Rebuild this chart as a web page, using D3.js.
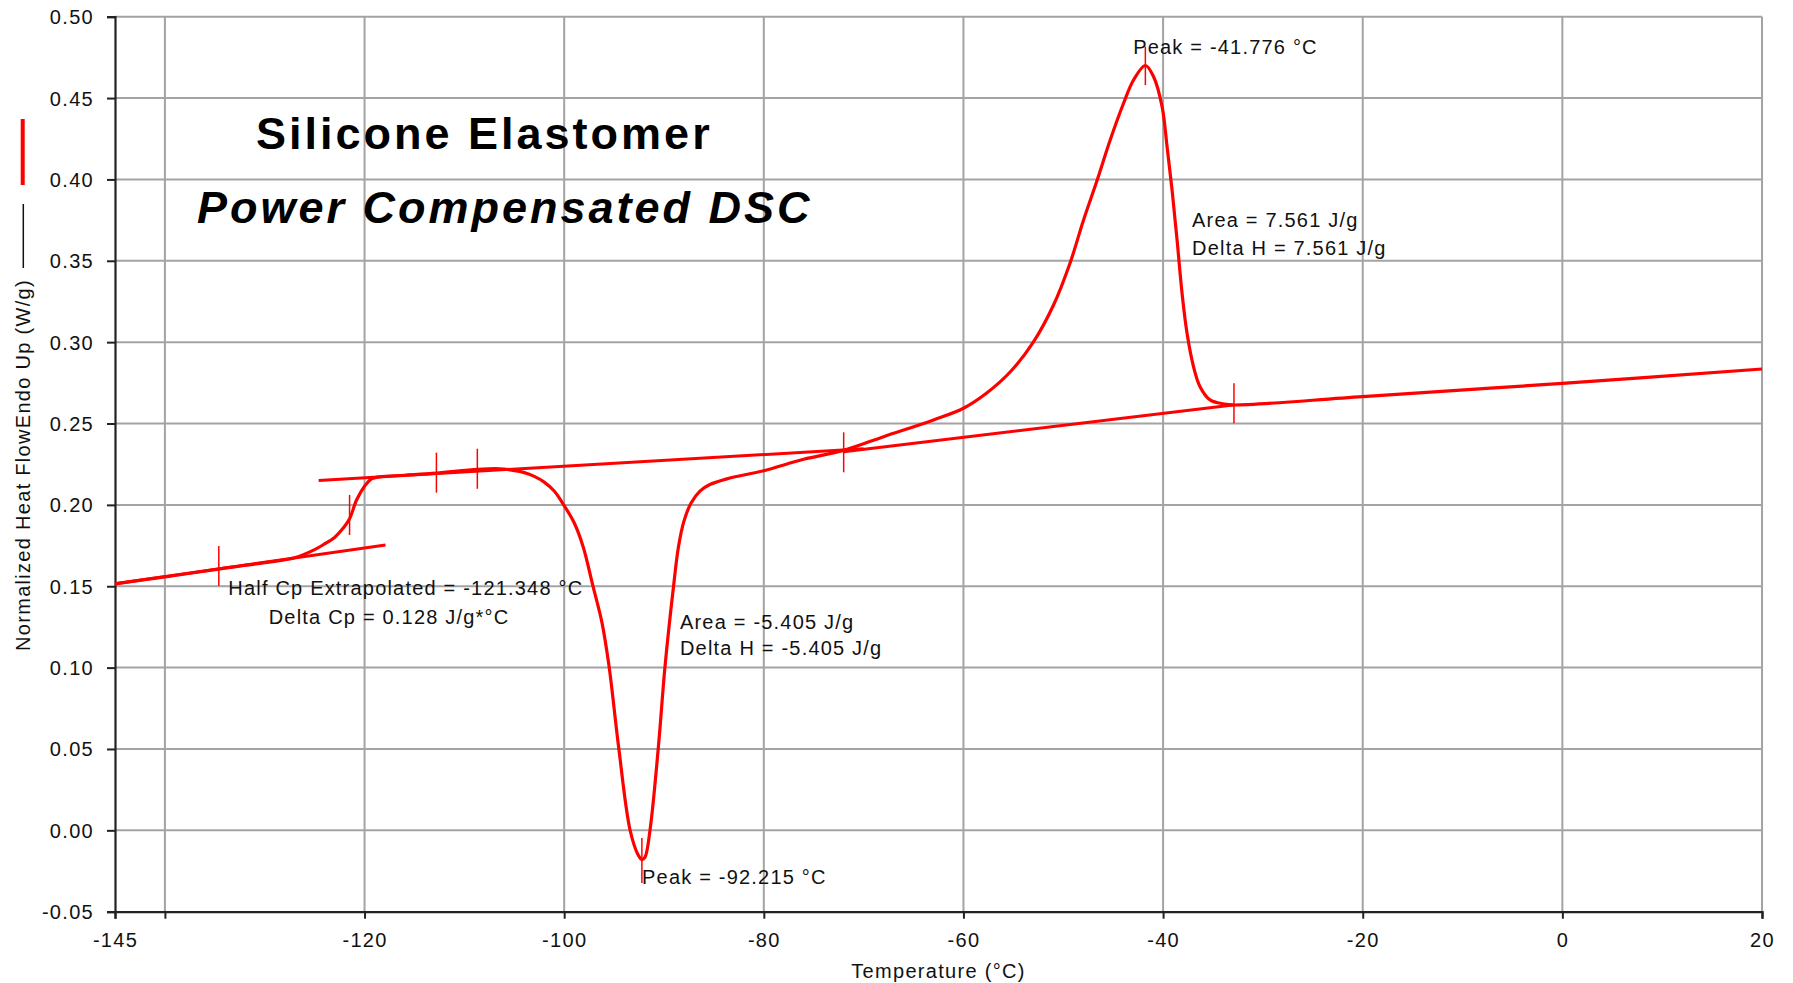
<!DOCTYPE html>
<html><head><meta charset="utf-8">
<script src="https://cdn.jsdelivr.net/npm/d3@7"></script>
<style>
body{margin:0;background:#fff;}
svg text{font-family:"Liberation Sans",Arial,sans-serif;fill:#111;}
</style>
</head><body><svg id="chart" width="1793" height="983"></svg>
<script>
// ---- data ----
const temperature = [-145,-140,-135,-130,-127,-125,-124,-123,-122.3,-121.5,-120.8,-120.0,-119.3,-118.5,-116,-112.8,-108.7,-106.5,-105.4,-104,-103,-102,-101,-100.1,-99,-98.1,-97.1,-96.2,-95.5,-94.55,-93.4,-92.6,-92.2,-91.9,-91.4,-90.56,-89.9,-89.05,-88.55,-88.0,-87.3,-86.4,-85.4,-83.7,-80,-76,-72,-68,-63,-60,-57.7,-55.3,-53,-51,-49.3,-48,-46.6,-45.3,-43.96,-42.96,-41.78,-40.95,-40.1,-39.6,-39.1,-38.6,-38.1,-37.6,-36.95,-36.3,-35.3,-33.9,-33,-20,0,20];
const heatFlow = [0.1515,0.1558,0.1602,0.1645,0.1675,0.1725,0.1760,0.1800,0.1845,0.1915,0.2030,0.2115,0.2160,0.2172,0.2182,0.2195,0.2218,0.2222,0.2215,0.2198,0.2175,0.2140,0.2085,0.2005,0.1890,0.1743,0.1497,0.1272,0.1006,0.0514,0.0002,-0.0150,-0.0180,-0.0165,0.0002,0.0514,0.1006,0.1497,0.1743,0.1900,0.2010,0.2085,0.2125,0.2160,0.2210,0.2280,0.2335,0.2419,0.2522,0.2594,0.2686,0.2818,0.3000,0.3225,0.3490,0.3745,0.3996,0.4242,0.4468,0.4611,0.4700,0.4631,0.4447,0.4201,0.3935,0.3628,0.3300,0.3054,0.2849,0.2726,0.2645,0.2620,0.2614,0.2665,0.2747,0.2835];

const xTickValues = [-145,-140,-120,-100,-80,-60,-40,-20,0,20];
const xTickLabels = ["-145","","-120","-100","-80","-60","-40","-20","0","20"];
const xGridValues = [-140,-120,-100,-80,-60,-40,-20,0,20];
const yTickValues = [0.50,0.45,0.40,0.35,0.30,0.25,0.20,0.15,0.10,0.05,0.00,-0.05];
const yTickLabels = ["0.50","0.45","0.40","0.35","0.30","0.25","0.20","0.15","0.10","0.05","0.00","-0.05"];
const yGridValues = [0.50,0.45,0.40,0.35,0.30,0.25,0.20,0.15,0.10,0.05,0.00];

// baselines: start/end temperatures and values
const baselineTemps  = [[-145,-117.9],[-124.6,-70],[-72,-33]];
const baselineValues = [[0.1515,0.1754],[0.2150,0.2345],[0.2327,0.2614]];

// analysis limit markers on the curve
const markerTemps  = [-134.6,-121.5,-112.8,-108.7,-72.0,-32.9];
const markerValues = [0.1625,0.1938,0.2198,0.2222,0.2323,0.2624];

// peak markers
const peakTemps = [-92.215,-41.776];
const peakTop   = [-0.0047,0.4816];
const peakBot   = [-0.0323,0.4580];

// annotations
const annoTexts = ["Peak = -41.776 °C","Area = 7.561 J/g","Delta H = 7.561 J/g","Peak = -92.215 °C","Area = -5.405 J/g","Delta H = -5.405 J/g","Half Cp Extrapolated = -121.348 °C","Delta Cp = 0.128 J/g*°C"];
const annoTemps  = [-43.0,-37.1,-37.1,-92.2,-88.4,-88.4,-133.65,-129.6];
const annoValues = [0.4816,0.3751,0.3577,-0.0287,0.1282,0.1119,0.1487,0.1313];

const titleLines = ["Silicone Elastomer","Power Compensated DSC"];
const xTitle = "Temperature (°C)";
const yTitle = "Normalized Heat FlowEndo Up (W/g)";

// ---- drawing ----
const svg = d3.select("#chart");
const L = 115, R = 1762, T = 16.7, B = 911.7;
const x = d3.scaleLinear().domain([-145,20]).range([L,R]);
const y = d3.scaleLinear().domain([-0.05,0.50]).range([B,T]);

svg.append("rect").attr("width",1793).attr("height",983).attr("fill","#fff");

// grid
const grid = svg.append("g").attr("stroke","#a3a3a3").attr("stroke-width",2);
grid.selectAll("line.v").data(xGridValues).join("line").attr("class","v")
  .attr("x1",d=>x(d)).attr("x2",d=>x(d)).attr("y1",T).attr("y2",B);
grid.selectAll("line.h").data(yGridValues).join("line").attr("class","h")
  .attr("x1",L).attr("x2",R).attr("y1",d=>y(d)).attr("y2",d=>y(d));

// axes
const xAxis = d3.axisBottom(x).tickValues(xTickValues).tickSize(7).tickPadding(14)
  .tickFormat((d,i)=>xTickLabels[i]);
const gx = svg.append("g").attr("transform",`translate(0,${B})`).call(xAxis);
const yAxis = d3.axisLeft(y).tickValues(yTickValues).tickSize(8).tickPadding(13)
  .tickFormat((d,i)=>yTickLabels[i]);
const gy = svg.append("g").attr("transform",`translate(${L},0)`).call(yAxis);
[gx,gy].forEach(g=>{
  g.select(".domain").attr("stroke","#222").attr("stroke-width",2.2);
  g.selectAll(".tick line").attr("stroke","#222").attr("stroke-width",2);
  g.selectAll(".tick text").attr("font-size",20).attr("fill","#111")
   .style("letter-spacing","1.3px").attr("font-family","Liberation Sans, Arial, sans-serif");
});
gx.selectAll(".tick text").attr("dy","0.71em");
gy.selectAll(".tick text").attr("dy","0.35em");

// baselines
const line2 = d3.line().x(d=>x(d[0])).y(d=>y(d[1]));
svg.append("g").selectAll("path").data(baselineTemps.map((t,i)=>t.map((tt,j)=>[tt,baselineValues[i][j]])))
  .join("path").attr("d",line2).attr("fill","none").attr("stroke","#ff0000").attr("stroke-width",3);

// main curve
const curve = d3.line().x(d=>x(d[0])).y(d=>y(d[1])).curve(d3.curveCatmullRom.alpha(0.5));
svg.append("path").datum(temperature.map((t,i)=>[t,heatFlow[i]]))
  .attr("d",curve).attr("fill","none").attr("stroke","#ff0000").attr("stroke-width",3.2)
  .attr("stroke-linejoin","round");

// limit markers
svg.append("g").selectAll("line").data(markerTemps).join("line")
  .attr("x1",d=>x(d)).attr("x2",d=>x(d))
  .attr("y1",(d,i)=>y(markerValues[i])-20).attr("y2",(d,i)=>y(markerValues[i])+20)
  .attr("stroke","#ff0000").attr("stroke-width",1.5);

// peak markers
svg.append("g").selectAll("line").data(peakTemps).join("line")
  .attr("x1",d=>x(d)).attr("x2",d=>x(d))
  .attr("y1",(d,i)=>y(peakTop[i])).attr("y2",(d,i)=>y(peakBot[i]))
  .attr("stroke","#ff0000").attr("stroke-width",1.5);

// annotations
svg.append("g").selectAll("text").data(annoTexts).join("text")
  .attr("x",(d,i)=>x(annoTemps[i])).attr("y",(d,i)=>y(annoValues[i]))
  .attr("dy","0.35em").attr("font-size",20).style("letter-spacing","1.2px")
  .text(d=>d);

// titles
svg.append("text").attr("x",256).attr("y",148.5).attr("font-size",45).attr("font-weight","bold")
  .style("letter-spacing","3px").style("fill","#000").text(titleLines[0]);
svg.append("text").attr("x",197).attr("y",222.7).attr("font-size",45).attr("font-weight","bold")
  .attr("font-style","italic").style("letter-spacing","3px").style("fill","#000").text(titleLines[1]);

// axis titles
svg.append("text").attr("x",(L+R)/2).attr("y",971).attr("dy","0.35em").attr("text-anchor","middle")
  .attr("font-size",20).style("letter-spacing","1.3px").text(xTitle);
svg.append("text").attr("transform","translate(23,465) rotate(-90)").attr("dy","0.35em")
  .attr("text-anchor","middle").attr("font-size",20).style("letter-spacing","1.3px").text(yTitle);

// legend marks on the left
svg.append("line").attr("x1",22.7).attr("x2",22.7).attr("y1",119).attr("y2",185)
  .attr("stroke","#ff0000").attr("stroke-width",4);
svg.append("line").attr("x1",23.3).attr("x2",23.3).attr("y1",204).attr("y2",268)
  .attr("stroke","#111").attr("stroke-width",1.5);
</script>
</body></html>
